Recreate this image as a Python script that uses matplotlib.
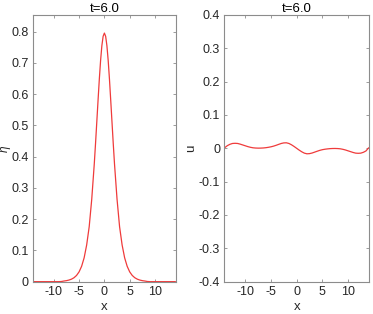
import matplotlib
matplotlib.use('Agg')
import matplotlib.pyplot as plt
from matplotlib.ticker import FormatStrFormatter

plt.rcParams['font.family'] = ['Liberation Sans', 'DejaVu Sans']
plt.rcParams['axes.unicode_minus'] = False

# surface elevation eta(x) at t=6.0
x_eta = [-14, -12, -10, -9, -8.5, -8, -7.5, -7, -6.5, -6, -5.5, -5, -4.5, -4, -3.5, -3,
         -2.5, -2, -1.75, -1.5, -1.25, -1, -0.75, -0.5, -0.25, 0,
         0.25, 0.5, 0.75, 1, 1.25, 1.5, 1.75, 2, 2.5, 3, 3.5, 4, 4.5, 5,
         5.5, 6, 6.5, 7, 7.5, 8, 8.5, 9, 10, 12, 14]
eta = [0, 0, 0, 0, 0.0005, 0.002, 0.0032, 0.0051, 0.008, 0.0126, 0.0199, 0.0313, 0.0491, 0.0763, 0.1175, 0.1759,
       0.2634, 0.3761, 0.4416, 0.5108, 0.5804, 0.6479, 0.7074, 0.7544, 0.7846, 0.795,
       0.7846, 0.7544, 0.7074, 0.6479, 0.5804, 0.5108, 0.4416, 0.3761, 0.2634, 0.1759, 0.1175, 0.0763, 0.0491, 0.0313,
       0.0199, 0.0126, 0.008, 0.0051, 0.0032, 0.002, 0.0005, 0, 0, 0, 0]

# velocity u(x) at t=6.0
x_u = [-14, -13.5, -13, -12.5, -12, -11.5, -11, -10.5, -10, -9.5, -9, -8.5, -8, -7.5, -7,
       -6.5, -6, -5.5, -5, -4.5, -4, -3.5, -3, -2.5, -2, -1.5, -1, -0.5, 0,
       0.5, 1, 1.5, 2, 2.5, 3, 3.5, 4, 4.5, 5, 5.5, 6, 6.5, 7,
       7.5, 8, 8.5, 9, 9.5, 10, 10.5, 11, 11.5, 12, 12.5, 13, 13.5, 14]
u = [0.002, 0.008, 0.012, 0.0145, 0.015, 0.0145, 0.0125, 0.010, 0.0075, 0.005, 0.003, 0.0015, 0.0008, 0.0005, 0.0006,
     0.001, 0.0018, 0.003, 0.0045, 0.0065, 0.009, 0.0118, 0.0145, 0.0162, 0.0165, 0.0145, 0.0105, 0.0055, 0.0,
     -0.0055, -0.0105, -0.0145, -0.0165, -0.016, -0.0142, -0.0115, -0.0088, -0.0062, -0.0042, -0.0028, -0.0018, -0.001, -0.0006,
     -0.0005, -0.0008, -0.0015, -0.003, -0.005, -0.0075, -0.010, -0.0125, -0.0145, -0.015, -0.0145, -0.012, -0.008, 0.001]

title = 't=6.0'
xticks = [-10, -5, 0, 5, 10]
eta_ticks = [0, 0.1, 0.2, 0.3, 0.4, 0.5, 0.6, 0.7, 0.8]
u_ticks = [-0.4, -0.3, -0.2, -0.1, 0, 0.1, 0.2, 0.3, 0.4]
xlim = (-14.1, 14.15)

fig = plt.figure(figsize=(3.73, 3.14), dpi=100)
ax1 = fig.add_axes([0.0885, 0.103, 0.3834, 0.8494])
ax2 = fig.add_axes([0.6013, 0.103, 0.3887, 0.8494])

spine_col = '#8c8c8c'
text_col = '#262626'
line_col = '#ef3b3b'


def style(ax):
    for s in ax.spines.values():
        s.set_color(spine_col)
        s.set_linewidth(0.8)
    ax.tick_params(direction='in', length=2.5, width=0.6, color=spine_col,
                   labelcolor=text_col, labelsize=9, top=True, right=True, pad=3)
    ax.set_xticks(xticks)
    ax.set_xlim(*xlim)
    ax.yaxis.set_major_formatter(FormatStrFormatter('%g'))
    ax.set_title(title, fontsize=9.5, color='black', pad=2)
    ax.set_xlabel('x', fontsize=9.5, color=text_col, labelpad=2)


ax1.plot(x_eta, eta, color=line_col, lw=0.9)
style(ax1)
ax1.set_ylim(0, 0.853)
ax1.set_yticks(eta_ticks)
ax1.set_ylabel('η', fontsize=8.5, fontstyle='italic', color=text_col, va='center')
ax1.yaxis.set_label_coords(-0.195, 0.5)

ax2.plot(x_u, u, color=line_col, lw=0.9)
style(ax2)
ax2.set_ylim(-0.4, 0.4)
ax2.set_yticks(u_ticks)
ax2.set_ylabel('u', fontsize=9.5, color=text_col, va='center')
ax2.yaxis.set_label_coords(-0.226, 0.5)

fig.savefig('out.png', dpi=100)
